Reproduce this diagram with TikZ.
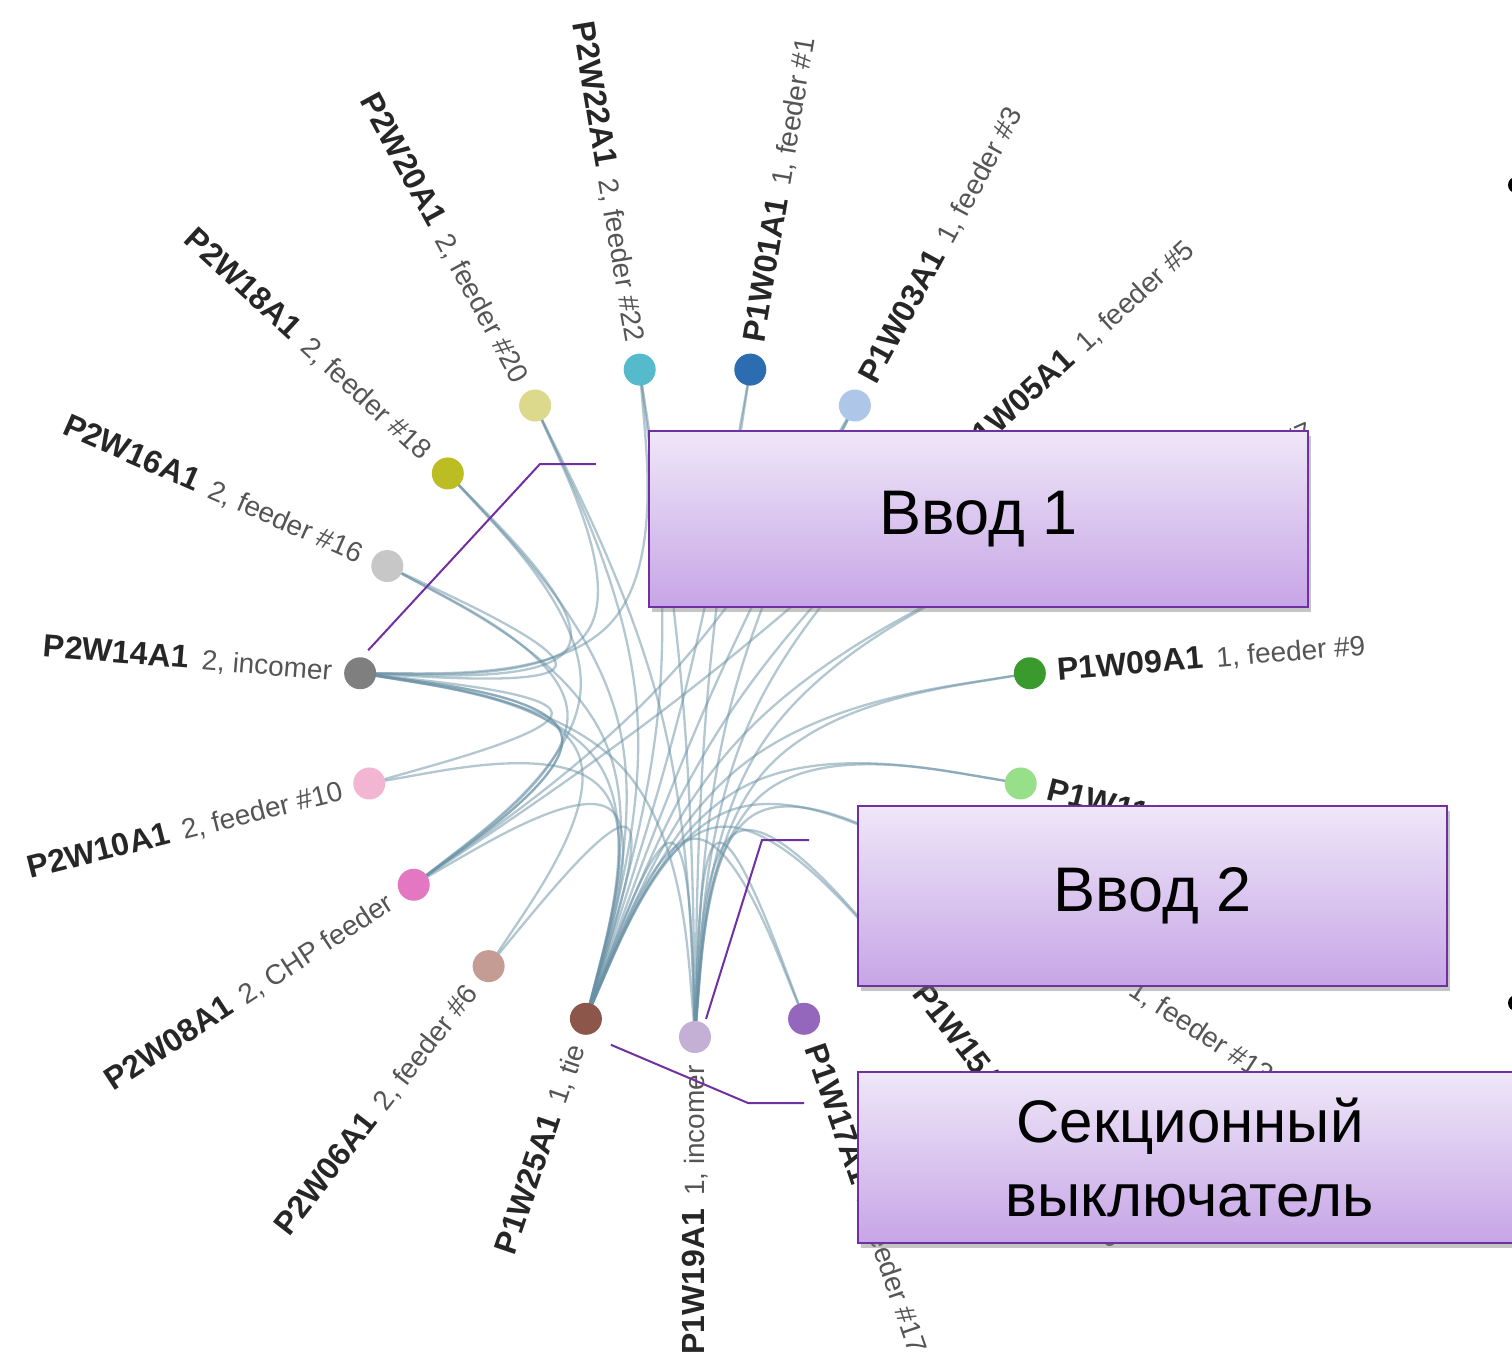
\documentclass[tikz,border=0pt]{standalone}
\usepackage{fontspec}
\setmainfont{Liberation Sans}
\usetikzlibrary{calc,shadows}

% leaf colours
\definecolor{cP1W19A1}{HTML}{C5B0D5}
\definecolor{cP1W17A1}{HTML}{9467BD}
\definecolor{cP1W15A1}{HTML}{FF9896}
\definecolor{cP1W13A1}{HTML}{D62728}
\definecolor{cP1W11A1}{HTML}{98DF8A}
\definecolor{cP1W09A1}{HTML}{3A9A2E}
\definecolor{cP1W07A1}{HTML}{FFBB78}
\definecolor{cP1W05A1}{HTML}{FF7F0E}
\definecolor{cP1W03A1}{HTML}{AEC7E8}
\definecolor{cP1W01A1}{HTML}{2B6DB0}
\definecolor{cP2W22A1}{HTML}{55BACC}
\definecolor{cP2W20A1}{HTML}{DCD98D}
\definecolor{cP2W18A1}{HTML}{BCBD22}
\definecolor{cP2W16A1}{HTML}{C7C7C7}
\definecolor{cP2W14A1}{HTML}{7F7F7F}
\definecolor{cP2W10A1}{HTML}{F2B6D2}
\definecolor{cP2W08A1}{HTML}{E377C2}
\definecolor{cP2W06A1}{HTML}{C49C94}
\definecolor{cP1W25A1}{HTML}{8C564B}

\definecolor{namecol}{HTML}{262626}
\definecolor{desccol}{HTML}{555555}
\definecolor{linkcol}{RGB}{105,145,165}
\definecolor{boxtop}{HTML}{EFE7F8}
\definecolor{boxbot}{HTML}{C6A5E6}
\definecolor{boxline}{HTML}{7030A0}

\pgfdeclarelayer{links}
\pgfsetlayers{links,main}

\tikzset{
  leaf/.style={circle, draw=none, minimum size=32pt, inner sep=0pt},
  lbl/.style={inner sep=0pt, text=namecol},
  bundleline/.style={draw=linkcol, draw opacity=0.5, line width=2.3pt},
  callbox/.style={draw=boxline, line width=2.5pt, top color=boxtop, bottom color=boxbot,
    inner sep=0pt, align=center,
    drop shadow={shadow xshift=3pt, shadow yshift=-5pt, opacity=0.45}},
  pointer/.style={draw=boxline, line width=2pt},
}

\newcommand\lbltext[2]{{\fontsize{32}{36}\selectfont\bfseries #1}\hspace{13pt}{\fontsize{28}{32}\selectfont\color{desccol}#2}}

% bundled link through the hub at the centre (tension 0.85, basis spline)
\newcommand\bundle[2]{%
  \coordinate (mid) at ($0.075*(#1.center)+0.075*(#2.center)$);
  \draw[bundleline] (#1.center) -- ($(#1.center)!0.16667!(mid)$)
    .. controls ($(#1.center)!0.33333!(mid)$) and ($(#1.center)!0.66667!(mid)$)
    .. ($0.16667*(#1.center)+0.66667*(mid)+0.16667*(#2.center)$)
    .. controls ($(mid)!0.33333!(#2.center)$) and ($(mid)!0.66667!(#2.center)$)
    .. ($(#2.center)!0.16667!(mid)$) -- (#2.center);
}

\begin{document}
\begin{tikzpicture}[x=1pt,y=1pt]
\useasboundingbox (-695,-665) rectangle (817,701);
\begin{pgfonlayer}{links}
  \fill[white] (-695,-665) rectangle (817,701);
\end{pgfonlayer}

% leaves and their radial labels
\foreach \k/\nm/\ds in {
  0/P1W19A1/{1, incomer},
  1/P1W17A1/{1, feeder \#17},
  2/P1W15A1/{1, feeder \#15},
  3/P1W13A1/{1, feeder \#13},
  4/P1W11A1/{1, feeder \#11},
  5/P1W09A1/{1, feeder \#9},
  6/P1W07A1/{1, feeder \#7},
  7/P1W05A1/{1, feeder \#5},
  8/P1W03A1/{1, feeder \#3},
  9/P1W01A1/{1, feeder \#1},
  10/P2W22A1/{2, feeder \#22},
  11/P2W20A1/{2, feeder \#20},
  12/P2W18A1/{2, feeder \#18},
  13/P2W16A1/{2, feeder \#16},
  14/P2W14A1/{2, incomer},
  15/P2W10A1/{2, feeder \#10},
  16/P2W08A1/{2, CHP feeder},
  17/P2W06A1/{2, feeder \#6},
  18/P1W25A1/{1, tie}}{
  \pgfmathsetmacro\ang{-90+\k*360/19}
  \node[leaf, fill=c\nm] (\nm) at (\ang:336) {};
  \pgfmathtruncatemacro\rside{(\k>0)*(\k<10)}
  \ifnum\rside=1
    \node[lbl, rotate=\ang, anchor=west] (t\nm) at (\ang:364) {\lbltext{\nm}{\ds}};
  \else
    \pgfmathsetmacro\rot{\ang+180}
    \node[lbl, rotate=\rot, anchor=east] (t\nm) at (\ang:364) {\lbltext{\nm}{\ds}};
  \fi
}

% links
\begin{pgfonlayer}{links}
\foreach \s/\t in {
  P1W25A1/P1W01A1, P1W25A1/P1W03A1, P1W25A1/P1W05A1, P1W25A1/P1W07A1,
  P1W25A1/P1W09A1, P1W25A1/P1W11A1, P1W25A1/P1W13A1, P1W25A1/P1W15A1,
  P1W25A1/P1W17A1, P1W25A1/P1W19A1, P1W25A1/P2W22A1, P1W25A1/P2W20A1,
  P1W25A1/P2W18A1, P1W25A1/P2W16A1, P1W25A1/P2W14A1, P1W25A1/P2W10A1,
  P1W25A1/P2W08A1, P1W25A1/P2W06A1,
  P1W19A1/P1W01A1, P1W19A1/P1W03A1, P1W19A1/P1W05A1, P1W19A1/P1W07A1,
  P1W19A1/P1W09A1, P1W19A1/P1W11A1, P1W19A1/P1W13A1, P1W19A1/P1W15A1,
  P1W19A1/P1W17A1, P1W19A1/P2W22A1, P1W19A1/P2W20A1, P1W19A1/P2W14A1,
  P2W14A1/P2W22A1, P2W14A1/P2W20A1, P2W14A1/P2W18A1, P2W14A1/P2W16A1,
  P2W14A1/P2W10A1, P2W14A1/P2W08A1, P2W14A1/P2W06A1,
  P2W08A1/P2W16A1, P2W08A1/P2W18A1, P2W08A1/P1W03A1, P2W08A1/P1W05A1,
  P2W08A1/P2W14A1}{\bundle{\s}{\t}}
\end{pgfonlayer}

% callout boxes
\node[callbox, minimum width=659pt, minimum height=176pt,
  font=\fontsize{63}{70}\selectfont] (box1) at (283.5,182) {Ввод 1};
\node[callbox, minimum width=589pt, minimum height=180pt,
  font=\fontsize{63}{70}\selectfont] (box2) at (457.5,-195) {Ввод 2};
\node[callbox, minimum width=664pt, minimum height=171pt,
  font=\fontsize{60}{74}\selectfont] (box3) at (495,-456.5) {Секционный\\выключатель};

% pointers from the boxes to their leaves
\coordinate (p1end) at (-99,237);
\coordinate (p1knee) at (-155,237);
\draw[pointer] ($(P2W14A1.center)+(8,23)$) -- (p1knee) -- (p1end);
\coordinate (p2end) at (114,-139);
\coordinate (p2knee) at (67,-139);
\draw[pointer] ($(P1W19A1.center)+(11,18)$) -- (p2knee) -- (p2end);
\coordinate (p3end) at (109,-402);
\coordinate (p3knee) at (53,-402);
\draw[pointer] ($(P1W25A1.center)+(25,-26)$) -- (p3knee) -- (p3end);

% bullets at the right edge
\fill (821,516) circle (8pt);
\fill (821,-302) circle (8pt);
\end{tikzpicture}
\end{document}
